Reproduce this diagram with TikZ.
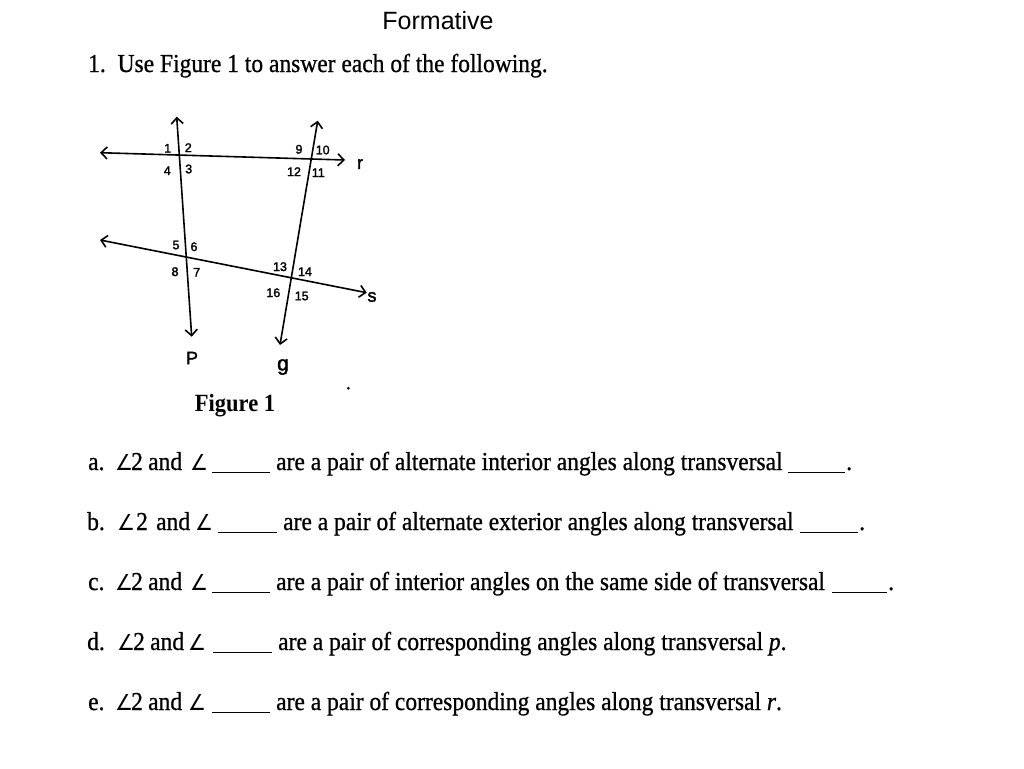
\RequirePackage{fix-cm}
\documentclass[tikz,border=0pt]{standalone}
\usepackage{fontspec}
\usepackage{graphicx}
\setmainfont{Liberation Serif}
\newfontfamily\bodyf{Liberation Serif}[FakeBold=0.8]
\newfontfamily\arialf{Liberation Sans}
\newfontfamily\handf{Liberation Sans}[FakeBold=2]
\newfontface\symf{DejaVu Sans}
\newcommand{\tx}[1]{\scalebox{1}[1.1]{#1}}
\newcommand{\ang}{{\symf\fontsize{20}{20}\selectfont ∠}}
\usetikzlibrary{arrows.meta}
\begin{document}
\begin{tikzpicture}[x=1pt,y=-1pt,
  txt/.style={anchor=base west, inner sep=0pt, font=\bodyf\fontsize{23.5}{28}\selectfont},
  hand/.style={inner sep=0pt, font=\handf\fontsize{12.5}{12.5}\selectfont},
  handbig/.style={inner sep=0pt, font=\handf\fontsize{18}{18}\selectfont},
  tline/.style={line width=1.6pt, {Straight Barb[length=6pt,width=12pt]}-{Straight Barb[length=6pt,width=12pt]}},
  blank/.style={anchor=base west, inner sep=0pt}]
\useasboundingbox (0,0) rectangle (1024,768);
% title
\node[anchor=base, inner sep=0pt, font=\arialf\fontsize{25}{30}\selectfont] (title) at (438,30) {Formative};
\node[txt] (q1) at (88,72) {\tx{1.\ \ Use Figure 1 to answer each of the following.}};
% figure
\coordinate (pT) at (176.7,116.7); \coordinate (pB) at (191.7,336.7);
\coordinate (qT) at (317.7,120.7); \coordinate (qB) at (280,345);
\coordinate (rL) at (100,152.7);   \coordinate (rR) at (345,160);
\coordinate (sL) at (100,240);     \coordinate (sR) at (366.7,292.7);
\draw[tline] (rL) -- (rR);
\draw[tline] (sL) -- (sR);
\draw[tline] (pT) -- (pB);
\draw[tline] (qT) -- (qB);
\node[handbig] (lr) at (360,164) {r};
\node[handbig] (ls) at (372,297) {s};
\node[handbig] (lp) at (192,358) {P};
\node[handbig, font=\handf\fontsize{21}{21}\selectfont] (lq) at (283,367) {g};
\node[hand] (a1) at (167.7,148.3) {1};
\node[hand] (a2) at (188.3,147.7) {2};
\node[hand] (a3) at (188.7,169) {3};
\node[hand] (a4) at (167.3,170.7) {4};
\node[hand] (a5) at (176,245) {5};
\node[hand] (a6) at (194,246.7) {6};
\node[hand] (a7) at (196.7,272.3) {7};
\node[hand] (a8) at (175,271.7) {8};
\node[hand] (a9) at (299,149.3) {9};
\node[hand] (a10) at (322.7,150) {10};
\node[hand] (a11) at (318.3,172.7) {11};
\node[hand] (a12) at (294,171.7) {12};
\node[hand] (a13) at (280,266.7) {13};
\node[hand] (a14) at (305,271.7) {14};
\node[hand] (a15) at (301.7,296) {15};
\node[hand] (a16) at (273.3,292.7) {16};
\fill (348.3,388.3) circle (1.5pt);
\node[anchor=base, inner sep=0pt, font=\fontsize{22.5}{27}\selectfont\bfseries] (fig) at (235,411) {\tx{Figure 1}};
% row a
\node[txt] (ra0) at (88,470) {\tx{a.}};
\node[txt] (ra1) at (115,470) {\tx{\ang}};
\node[txt] (ra1b) at (131,470) {\tx{2}};
\node[txt] (ra2) at (148,470) {\tx{and}};
\node[txt] (ra3) at (190,470) {\tx{\ang}};
\node[blank] (ra4) at (212,470) {\rule[-3pt]{58pt}{1pt}};
\node[txt] (ra5) at (276,470) {\tx{are a pair of alternate interior angles along transversal}};
\node[blank] (ra6) at (788,470) {\rule[-3pt]{57pt}{1pt}};
\node[txt] (ra7) at (846,470) {\tx{.}};
% row b
\node[txt] (rb0) at (87,530) {\tx{b.}};
\node[txt] (rb1) at (117,530) {\tx{\ang}};
\node[txt] (rb1b) at (136,530) {\tx{2}};
\node[txt] (rb2) at (156,530) {\tx{and}};
\node[txt] (rb3) at (195,530) {\tx{\ang}};
\node[blank] (rb4) at (218,530) {\rule[-3pt]{59pt}{1pt}};
\node[txt] (rb5) at (283,530) {\tx{are a pair of alternate exterior angles along transversal}};
\node[blank] (rb6) at (800,530) {\rule[-3pt]{58pt}{1pt}};
\node[txt] (rb7) at (859,530) {\tx{.}};
% row c
\node[txt] (rc0) at (88,590) {\tx{c.}};
\node[txt] (rc1) at (115,590) {\tx{\ang}};
\node[txt] (rc1b) at (131,590) {\tx{2}};
\node[txt] (rc2) at (148,590) {\tx{and}};
\node[txt] (rc3) at (190,590) {\tx{\ang}};
\node[blank] (rc4) at (212,590) {\rule[-3pt]{58pt}{1pt}};
\node[txt] (rc5) at (276,590) {\tx{are a pair of interior angles on the same side of transversal}};
\node[blank] (rc6) at (832,590) {\rule[-3pt]{55pt}{1pt}};
\node[txt] (rc7) at (888,590) {\tx{.}};
% row d
\node[txt] (rd0) at (87,650) {\tx{d.}};
\node[txt] (rd1) at (117,650) {\tx{\ang}};
\node[txt] (rd1b) at (133,650) {\tx{2}};
\node[txt] (rd2) at (150,650) {\tx{and}};
\node[txt] (rd3) at (188,650) {\tx{\ang}};
\node[blank] (rd4) at (213,650) {\rule[-3pt]{59pt}{1pt}};
\node[txt] (rd5) at (278,650) {\tx{are a pair of corresponding angles along transversal \textit{p}.}};
% row e
\node[txt] (re0) at (88,710) {\tx{e.}};
\node[txt] (re1) at (115,710) {\tx{\ang}};
\node[txt] (re1b) at (131,710) {\tx{2}};
\node[txt] (re2) at (148,710) {\tx{and}};
\node[txt] (re3) at (188,710) {\tx{\ang}};
\node[blank] (re4) at (212,710) {\rule[-3pt]{58pt}{1pt}};
\node[txt] (re5) at (276,710) {\tx{are a pair of corresponding angles along transversal \textit{r}.}};
\end{tikzpicture}
\end{document}
